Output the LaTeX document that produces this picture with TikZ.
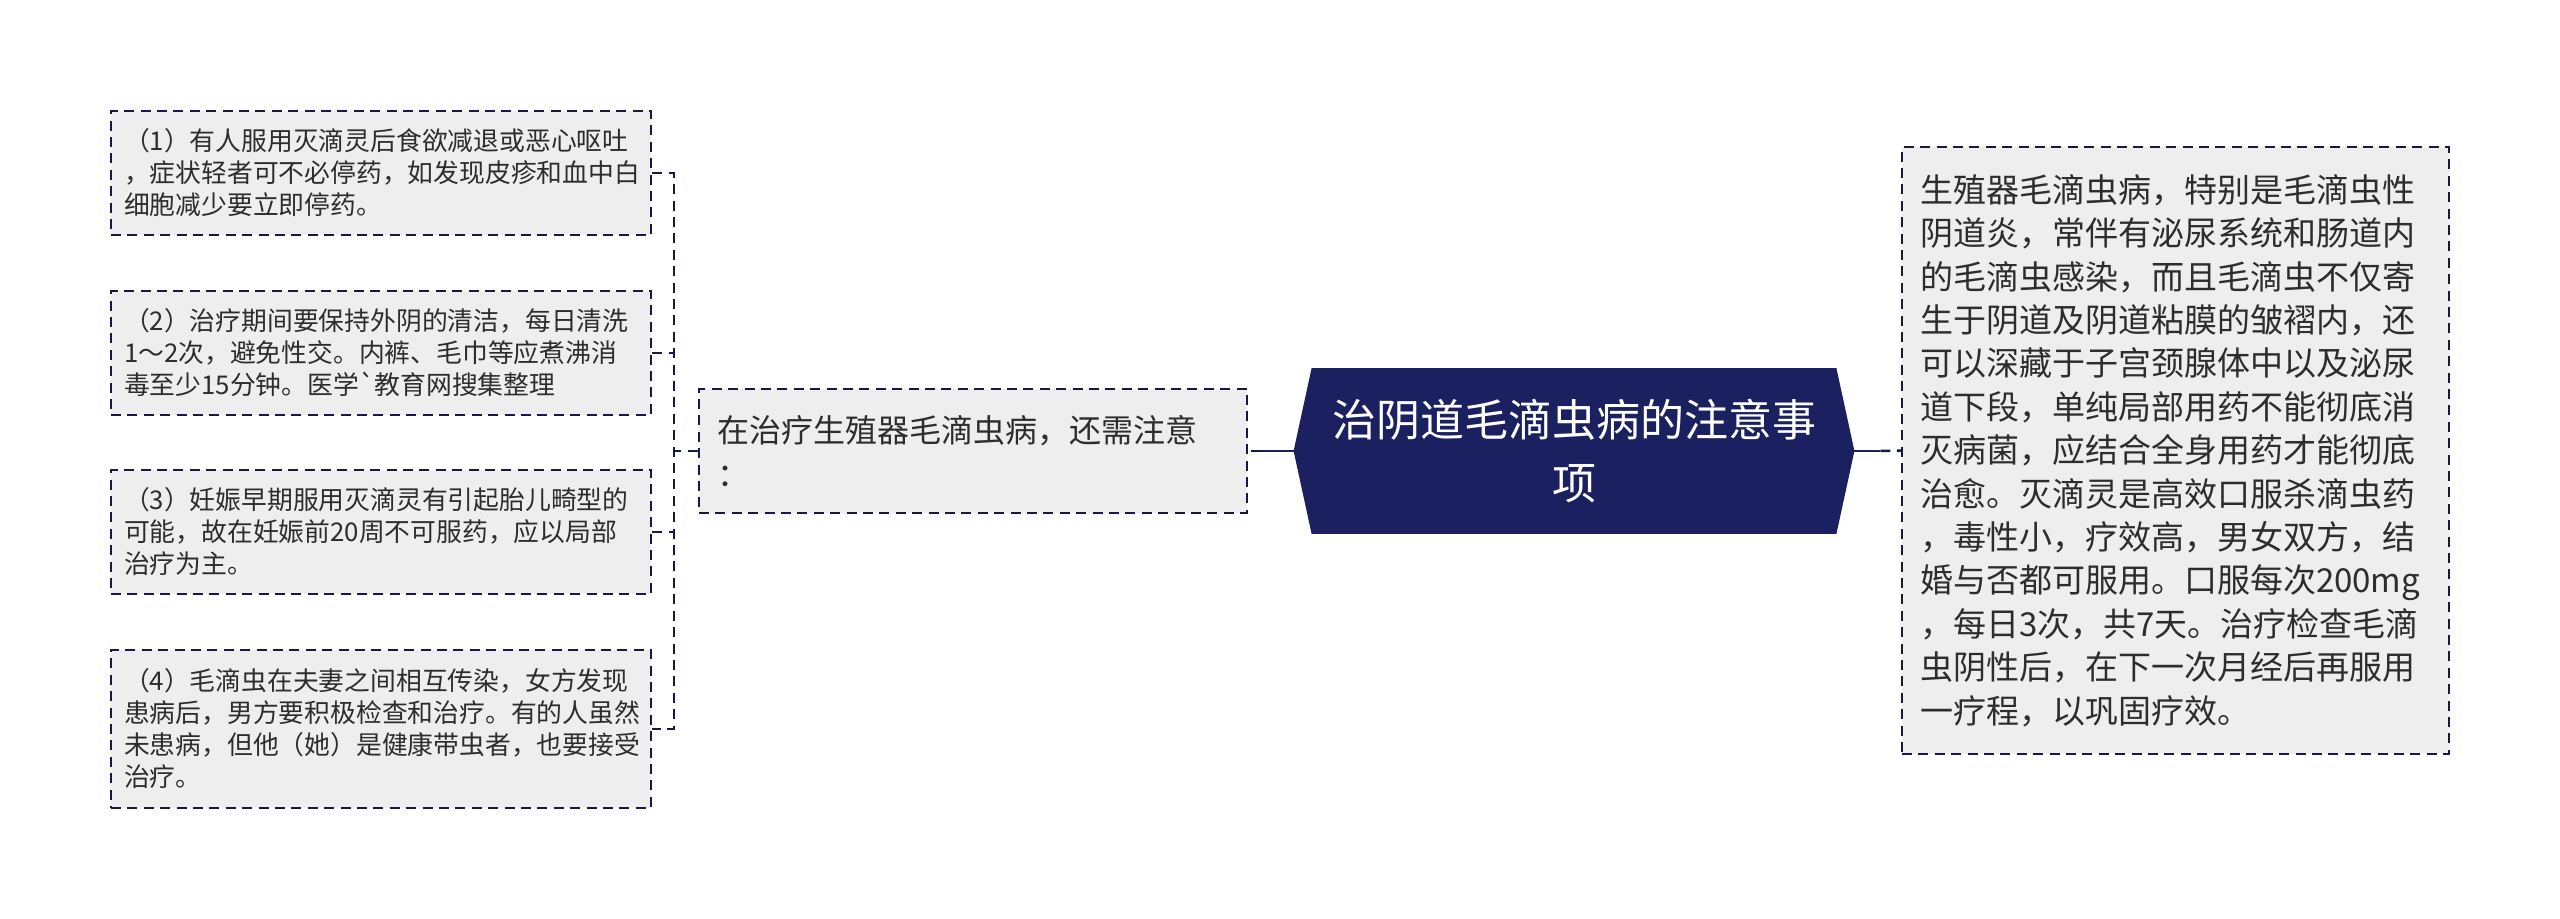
\documentclass[tikz,border=0pt]{standalone}
\usepackage{fontspec}
\setmainfont{Noto Sans CJK SC}[Ligatures=TeXOff]
\usetikzlibrary{backgrounds,calc}
\definecolor{navy}{RGB}{27,32,96}
\definecolor{dashnavy}{RGB}{22,24,70}
\definecolor{boxgray}{RGB}{238,238,238}
\definecolor{txt}{RGB}{45,45,45}
\begin{document}
\begin{tikzpicture}[x=0.5pt,y=-0.5pt,
 dsh/.style={line width=1.25pt, dash pattern=on 5pt off 3.2pt},
 leaf/.style={draw=dashnavy, dsh, fill=boxgray, text=txt, align=left, inner xsep=6.5pt, inner ysep=0pt, text width=257pt, font=\fontsize{12.9}{16}\selectfont},
 bigbox/.style={draw=dashnavy, dsh, fill=boxgray, text=txt, align=left, inner xsep=9pt, inner ysep=0pt},
 conn/.style={draw=dashnavy, dsh},
 solidconn/.style={draw=navy, line width=1.25pt}
]
\begin{scope}[on background layer]
\fill[white] (0,0) rectangle (2560,919);
\end{scope}
\useasboundingbox (0,0) rectangle (2560,919);

\node[leaf, minimum height=62pt] (b1) at (381,173) {（1）有人服用灭滴灵后食欲减退或恶心呕吐\\，症状轻者可不必停药，如发现皮疹和血中白\\细胞减少要立即停药。};
\node[leaf, minimum height=62pt] (b2) at (381,353) {（2）治疗期间要保持外阴的清洁，每日清洗\\1～2次，避免性交。内裤、毛巾等应煮沸消\\毒至少15分钟。医学`教育网搜集整理};
\node[leaf, minimum height=62pt] (b3) at (381,532) {（3）妊娠早期服用灭滴灵有引起胎儿畸型的\\可能，故在妊娠前20周不可服药，应以局部\\治疗为主。};
\node[leaf, minimum height=79pt] (b4) at (381,729) {（4）毛滴虫在夫妻之间相互传染，女方发现\\患病后，男方要积极检查和治疗。有的人虽然\\未患病，但他（她）是健康带虫者，也要接受\\治疗。};

\node[bigbox, text width=256pt, minimum height=62pt, font=\fontsize{16}{21.7}\selectfont] (mid) at (973,451) {在治疗生殖器毛滴虫病，还需注意\\：};

\node[text=white, align=center, font=\fontsize{22}{31.5}\selectfont, minimum width=262pt, minimum height=82.5pt, inner sep=0pt] (ctr) at (1574,451) {治阴道毛滴虫病的注意事\\项};
\coordinate (cl) at ($(ctr.west)+(-18,0)$);
\coordinate (cr) at ($(ctr.east)+(18,0)$);
\begin{scope}[on background layer]
\fill[navy] (ctr.north west) -- (ctr.north east) -- (cr) -- (ctr.south east) -- (ctr.south west) -- (cl) -- cycle;
\end{scope}

\node[bigbox, text width=255.5pt, minimum height=303.5pt, font=\fontsize{16.5}{21.7}\selectfont] (rb) at (2175.5,450.5) {生殖器毛滴虫病，特别是毛滴虫性\\阴道炎，常伴有泌尿系统和肠道内\\的毛滴虫感染，而且毛滴虫不仅寄\\生于阴道及阴道粘膜的皱褶内，还\\可以深藏于子宫颈腺体中以及泌尿\\道下段，单纯局部用药不能彻底消\\灭病菌，应结合全身用药才能彻底\\治愈。灭滴灵是高效口服杀滴虫药\\，毒性小，疗效高，男女双方，结\\婚与否都可服用。口服每次200mg\\，每日3次，共7天。治疗检查毛滴\\虫阴性后，在下一次月经后再服用\\一疗程，以巩固疗效。};

\coordinate (j) at ($(mid.west)+(-24,0)$);
\draw[conn] (mid.west) -- (j);
\draw[conn] (b1.east) -| (j) |- (b4.east);
\draw[conn] (b2.east) -- (b2.east -| j);
\draw[conn] (b3.east) -- (b3.east -| j);

\coordinate (ml) at ($(cl)+(-33,0)$);
\draw[solidconn] (cl) -- (ml);
\draw[conn] (ml) -- (mid.east);
\coordinate (mr) at ($(cr)+(26,0)$);
\draw[solidconn] (cr) -- (mr);
\draw[conn] (mr) -- (rb.west);
\end{tikzpicture}
\end{document}
